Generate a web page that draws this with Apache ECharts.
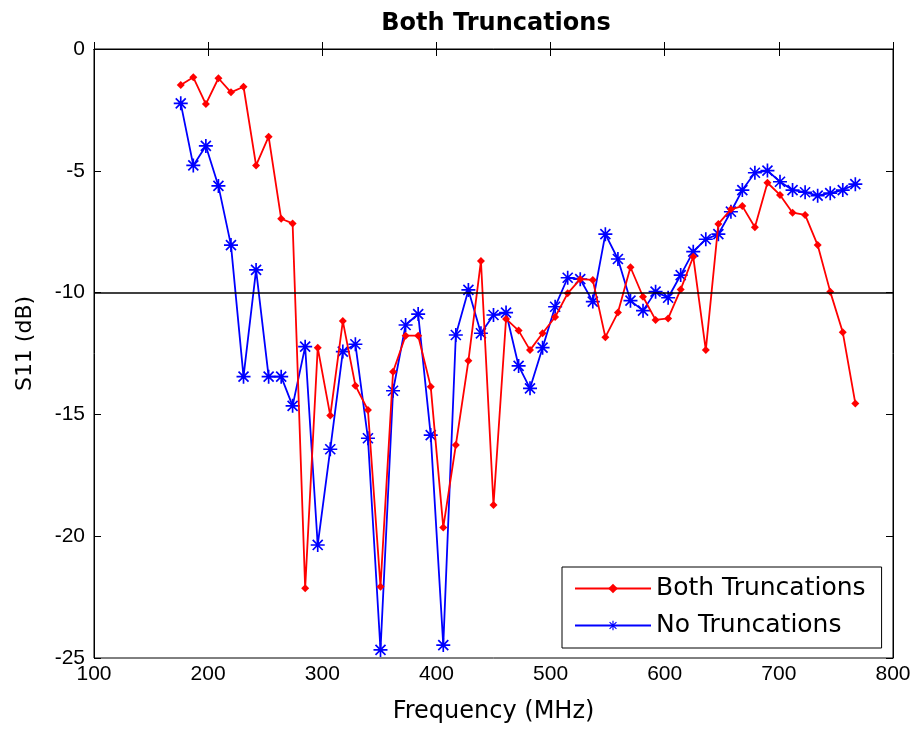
<!DOCTYPE html>
<html>
<head>
<meta charset="utf-8">
<title>Both Truncations</title>
<script src="https://cdn.jsdelivr.net/npm/echarts@6/dist/echarts.min.js"></script>
<style>
  html, body { margin: 0; padding: 0; background: #fff; }
  #main { width: 915px; height: 731px; }
</style>
</head>
<body>
<div id="main"></div>
<script>
// frequency points (MHz), shared by both curves
var freq = [176, 187, 198, 209, 220, 231, 242, 253, 264, 274,
  285, 296, 307, 318, 329, 340, 351, 362, 373, 384,
  395, 406, 417, 428, 439, 450, 461, 472, 482, 493,
  504, 515, 526, 537, 548, 559, 570, 581, 592, 603,
  614, 625, 636, 647, 658, 668, 679, 690, 701, 712,
  723, 734, 745, 756, 767];

var bothTrunc = [-1.48, -1.16, -2.26, -1.2, -1.78, -1.55, -4.78, -3.6, -6.97, -7.16,
  -22.14, -12.26, -15.05, -11.17, -13.82, -14.82, -22.07, -13.25, -11.77, -11.77,
  -13.86, -19.64, -16.26, -12.8, -8.7, -18.72, -11.08, -11.56, -12.36, -11.67,
  -11.0, -10.03, -9.45, -9.48, -11.83, -10.82, -8.96, -10.17, -11.12, -11.06,
  -9.87, -8.53, -12.36, -7.18, -6.58, -6.45, -7.32, -5.49, -5.99, -6.72,
  -6.81, -8.05, -9.96, -11.63, -14.55];

var noTrunc = [-2.23, -4.78, -3.98, -5.62, -8.05, -13.45, -9.07, -13.45, -13.45, -14.65,
  -12.22, -20.36, -16.43, -12.42, -12.12, -15.98, -24.67, -14.03, -11.33, -10.88,
  -15.85, -24.47, -11.74, -9.89, -11.67, -10.92, -10.82, -13.01, -13.93, -12.26,
  -10.58, -9.39, -9.45, -10.37, -7.6, -8.62, -10.33, -10.74, -9.96, -10.21,
  -9.28, -8.32, -7.81, -7.6, -6.68, -5.79, -5.08, -4.99, -5.45, -5.79,
  -5.88, -6.02, -5.92, -5.79, -5.55];

var xTicks = [100, 200, 300, 400, 500, 600, 700, 800];
var yTicks = [-25, -20, -15, -10, -5, 0];
var threshold = -10;

function pairs(ys) {
  var out = [];
  for (var i = 0; i < freq.length; i++) out.push([freq[i], ys[i]]);
  return out;
}

// asterisk marker, like matlab '*'
var starPath = 'path://M0 8.8H20V11.2H0Z M8.8 0H11.2V20H8.8Z ' +
  'M2 3.7L3.7 2L18 16.3L16.3 18Z M16.3 2L18 3.7L3.7 18L2 16.3Z';

var font = 'Arial, "Liberation Sans", Helvetica, sans-serif';
var wideFont = '"DejaVu Sans", Arial, sans-serif';

var chartDom = document.getElementById('main');
var myChart = echarts.init(chartDom);
var option = {
  animation: false,
  textStyle: { fontFamily: font },
  title: {
    text: 'Both Truncations',
    left: 491,
    textAlign: 'center',
    top: 7,
    textStyle: { fontSize: 24, fontWeight: 'bold', color: '#000', fontFamily: wideFont }
  },
  grid: {
    left: 94,
    right: 22,
    top: 49,
    bottom: 73,
    show: true,
    borderColor: '#000',
    borderWidth: 1,
    backgroundColor: '#fff'
  },
  legend: {
    orient: 'vertical',
    left: 562,
    top: 567,
    data: ['Both Truncations', 'No Truncations'],
    itemWidth: 76,
    itemHeight: 12,
    itemGap: 12,
    padding: [9, 16, 10, 12],
    backgroundColor: '#fff',
    borderColor: '#000',
    borderWidth: 1,
    borderRadius: 0,
    textStyle: { fontSize: 25, color: '#000', fontFamily: wideFont }
  },
  xAxis: [
    {
      type: 'value',
      min: xTicks[0],
      max: xTicks[xTicks.length - 1],
      interval: 100,
      name: 'Frequency (MHz)',
      nameLocation: 'middle',
      nameGap: 42,
      nameTextStyle: { fontSize: 24, color: '#000', fontFamily: wideFont },
      axisLine: { lineStyle: { color: '#000', width: 1 } },
      axisTick: { inside: true, length: 7, lineStyle: { color: '#000' } },
      axisLabel: { fontSize: 21, color: '#000', margin: 6, fontFamily: font },
      splitLine: { show: false }
    },
    {
      type: 'value',
      position: 'top',
      min: xTicks[0],
      max: xTicks[xTicks.length - 1],
      interval: 100,
      axisLine: { lineStyle: { color: '#000' } },
      axisTick: { inside: true, length: 7, lineStyle: { color: '#000' } },
      axisLabel: { show: false },
      splitLine: { show: false }
    }
  ],
  yAxis: [
    {
      type: 'value',
      min: yTicks[0],
      max: yTicks[yTicks.length - 1],
      interval: 5,
      name: 'S11 (dB)',
      nameLocation: 'middle',
      nameGap: 58,
      nameTextStyle: { fontSize: 22, color: '#000', fontFamily: wideFont, padding: [0, 0, 0, 20] },
      axisLine: { show: true, lineStyle: { color: '#000', width: 1 } },
      axisTick: { show: true, inside: true, length: 7, lineStyle: { color: '#000' } },
      axisLabel: { fontSize: 21, color: '#000', margin: 9, fontFamily: font },
      splitLine: { show: false }
    },
    {
      type: 'value',
      position: 'right',
      min: yTicks[0],
      max: yTicks[yTicks.length - 1],
      interval: 5,
      axisLine: { show: true, lineStyle: { color: '#000' } },
      axisTick: { show: true, inside: true, length: 7, lineStyle: { color: '#000' } },
      axisLabel: { show: false },
      splitLine: { show: false }
    }
  ],
  series: [
    {
      name: 'Both Truncations',
      type: 'line',
      data: pairs(bothTrunc),
      symbol: 'diamond',
      symbolSize: 8,
      showAllSymbol: true,
      color: '#ff0000',
      lineStyle: { color: '#ff0000', width: 1.8 },
      itemStyle: { color: '#ff0000' },
      z: 3,
      markLine: {
        silent: true,
        symbol: 'none',
        label: { show: false },
        lineStyle: { color: '#000', width: 1.5, type: 'solid' },
        data: [{ yAxis: threshold }]
      }
    },
    {
      name: 'No Truncations',
      type: 'line',
      data: pairs(noTrunc),
      symbol: starPath,
      symbolSize: 14,
      showAllSymbol: true,
      color: '#0000ff',
      lineStyle: { color: '#0000ff', width: 1.8 },
      itemStyle: { color: '#0000ff' },
      z: 2
    }
  ]
};
option && myChart.setOption(option);
</script>
</body>
</html>
